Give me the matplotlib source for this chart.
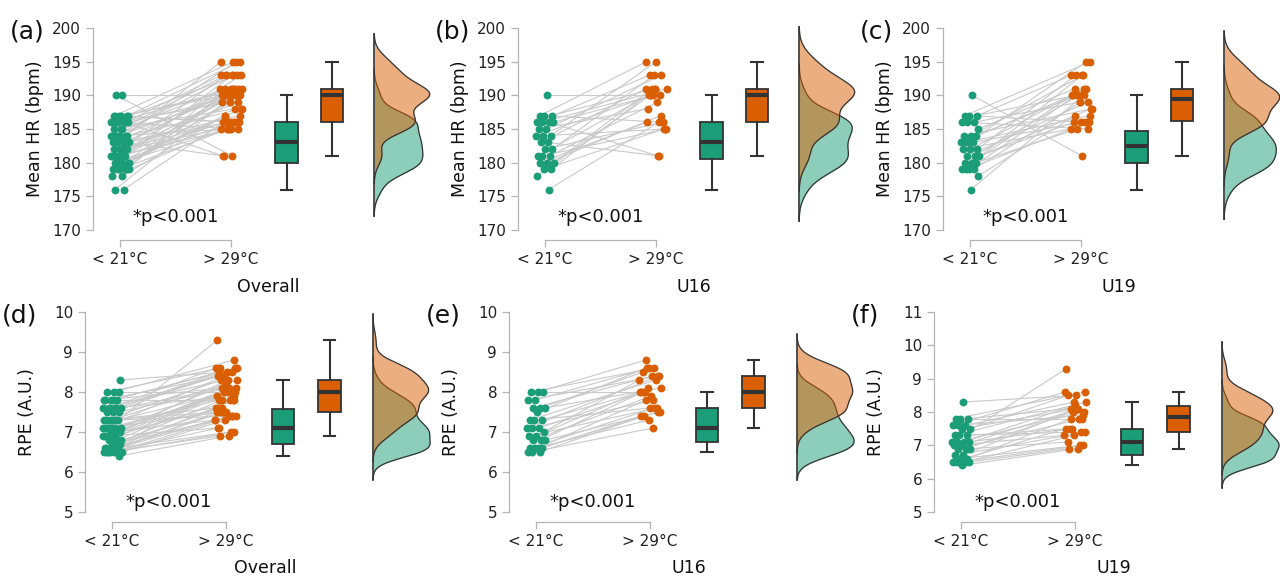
import numpy as np
import matplotlib.pyplot as plt

VERDE = '#1b9e77'
NARANJA = '#d95f02'
OSCURO = '#333333'
GRIS = '#b5b5b5'

# --- DATOS (pares frío / calor, mismo orden) ---
hr_u16_frio = [190, 187, 187, 187, 186, 186, 186, 186, 185, 185, 184, 184, 184, 183,
               183, 182, 182, 181, 181, 181, 180, 180, 180, 179, 179, 178, 176]
hr_u16_calor = [190, 195, 191, 186, 193, 181, 191, 190, 193, 188, 195, 185, 190, 181,
                191, 193, 186, 190, 189, 185, 191, 187, 186, 191, 185, 190, 186]

hr_u19_frio = [190, 187, 187, 187, 186, 186, 186, 185, 184, 184, 184, 183, 183, 183, 183,
               182, 182, 182, 181, 181, 181, 180, 180, 180, 179, 179, 179, 179, 178, 176]
hr_u19_calor = [181, 195, 190, 186, 193, 189, 185, 191, 193, 188, 190, 195, 190, 186, 187,
                193, 191, 185, 190, 189, 186, 193, 188, 185, 191, 190, 189, 186, 187, 190]

rpe_u16_frio = [8.0, 8.0, 8.0, 7.8, 7.8, 7.6, 7.6, 7.6, 7.5, 7.3, 7.3, 7.3, 7.1, 7.1,
                7.1, 7.0, 6.9, 6.9, 6.8, 6.8, 6.8, 6.6, 6.6, 6.6, 6.6, 6.5, 6.5, 6.5]
rpe_u16_calor = [8.8, 8.6, 8.0, 8.6, 8.4, 8.5, 8.4, 8.1, 8.6, 8.3, 8.0, 7.6, 8.4, 8.0,
                 7.8, 8.3, 8.1, 7.6, 8.0, 7.9, 7.5, 7.8, 7.6, 7.4, 7.3, 7.5, 7.4, 7.1]

rpe_u19_frio = [8.3, 7.8, 7.8, 7.8, 7.6, 7.6, 7.6, 7.5, 7.5, 7.3, 7.3, 7.3, 7.1, 7.1, 7.1,
                7.1, 7.0, 7.0, 6.9, 6.9, 6.9, 6.7, 6.7, 6.6, 6.6, 6.5, 6.5, 6.5, 6.5, 6.4]
rpe_u19_calor = [8.5, 8.6, 8.1, 7.8, 8.6, 8.3, 7.9, 8.5, 8.1, 8.3, 7.5, 7.4, 9.3, 8.2, 8.0,
                 7.5, 8.1, 7.3, 8.0, 7.8, 7.1, 8.1, 7.4, 7.8, 7.0, 7.5, 7.3, 7.0, 6.9, 6.9]

condiciones = ['< 21°C', '> 29°C']
grupos = ['Overall', 'U16', 'U19']
letras = ['(a)', '(b)', '(c)', '(d)', '(e)', '(f)']
hr_ticks = [170, 175, 180, 185, 190, 195, 200]
rpe_ticks = [5, 6, 7, 8, 9, 10]
rpe_ticks_u19 = [5, 6, 7, 8, 9, 10, 11]


def kde(valores):
    v = np.asarray(valores, dtype=float)
    n = len(v)
    iqr = np.subtract(*np.percentile(v, [75, 25]))
    bw = 0.9 * min(v.std(ddof=1), iqr / 1.34) * n ** -0.2
    malla = np.linspace(v.min() - 3 * bw, v.max() + 3 * bw, 400)
    dens = np.exp(-0.5 * ((malla[:, None] - v[None, :]) / bw) ** 2).sum(axis=1)
    dens /= n * bw * np.sqrt(2 * np.pi)
    return malla, dens


def jitter(n, ancho):
    # desplazamiento horizontal determinista (secuencia áurea)
    return (((np.arange(n) + 1) * 0.618034) % 1 - 0.5) * ancho


W, H = 1280, 579
fig = plt.figure(figsize=(W / 100, H / 100), dpi=100)


def panel(spine_px, top_px, bot_px, unidad, frio, calor, ylim, yticks, ylabel,
          letra, grupo, p_frac):
    izq = 1 - 27 / unidad
    ancho_px = 350
    ax = fig.add_axes([spine_px / W, 1 - bot_px / H, ancho_px / W, (bot_px - top_px) / H])
    ax.set_xlim(izq, izq + ancho_px / unidad)
    ax.set_ylim(*ylim)

    frio = np.asarray(frio, dtype=float)
    calor = np.asarray(calor, dtype=float)
    x1 = 1 + jitter(len(frio), 0.17)
    x2 = 2 + jitter(len(calor), 0.2)[::-1]

    for a, b, ya, yb in zip(x1, x2, frio, calor):
        ax.plot([a, b], [ya, yb], color='#c9c9c9', lw=0.8, zorder=1)
    ax.scatter(x1, frio, s=32, color=VERDE, zorder=3, clip_on=False, linewidths=0)
    ax.scatter(x2, calor, s=32, color=NARANJA, zorder=3, clip_on=False, linewidths=0)

    # cajas
    bp = ax.boxplot([frio, calor], positions=[2.5, 2.91], widths=0.2, whis=1.4,
                    showfliers=False, patch_artist=True, manage_ticks=False)
    for caja, color in zip(bp['boxes'], [VERDE, NARANJA]):
        caja.set_facecolor(color)
        caja.set_edgecolor(OSCURO)
        caja.set_linewidth(1.3)
    for k in ['whiskers', 'caps']:
        for l in bp[k]:
            l.set_color(OSCURO)
            l.set_linewidth(1.5)
    for l in bp['medians']:
        l.set_color(OSCURO)
        l.set_linewidth(3)

    # densidades (medio violín)
    base = 3.29
    mf, df = kde(frio)
    mc, dc = kde(calor)
    esc = 0.5 / max(df.max(), dc.max())
    ax.fill_betweenx(mf, base, base + df * esc, color=VERDE, alpha=0.5, lw=0, zorder=2,
                     clip_on=False)
    ax.plot(base + df * esc, mf, color=OSCURO, lw=0.9, zorder=2, clip_on=False)
    ax.fill_betweenx(mc, base, base + dc * esc, color=NARANJA, alpha=0.5, lw=0, zorder=2,
                     clip_on=False)
    ax.plot(base + dc * esc, mc, color=OSCURO, lw=0.9, zorder=2, clip_on=False)
    ax.plot([base, base], [min(mf.min(), mc.min()), max(mf.max(), mc.max())],
            color=OSCURO, lw=1.2, zorder=2, clip_on=False)

    # ejes
    for s in ['top', 'right']:
        ax.spines[s].set_visible(False)
    ax.spines['left'].set_color(GRIS)
    ax.spines['bottom'].set_color(GRIS)
    ax.spines['left'].set_linewidth(0.9)
    ax.spines['bottom'].set_linewidth(0.9)
    ax.spines['bottom'].set_position(('outward', 7))
    ax.spines['bottom'].set_bounds(1, 2)
    ax.set_yticks(yticks)
    ax.set_xticks([1, 2])
    ax.set_xticklabels(condiciones)
    ax.tick_params(axis='both', colors=GRIS, labelcolor='#222222', labelsize=11,
                   length=5, width=0.9)
    ax.tick_params(axis='x', pad=4)

    ax.text(1.5, p_frac, '*p<0.001', transform=ax.get_xaxis_transform(),
            ha='center', va='center', fontsize=13, color='#111111')
    ax.text(2.34, -0.28, grupo, transform=ax.get_xaxis_transform(),
            ha='center', va='center', fontsize=12.5, color='#111111')

    fig.text((spine_px - 58) / W, 1 - (top_px + bot_px) / 2 / H, ylabel, rotation=90,
             ha='center', va='center', fontsize=12.5, color='#111111')
    fig.text((spine_px - 83) / W, 1 - (top_px + 3) / H, letra, ha='left', va='center',
             fontsize=18, color='#111111')
    return ax


hr_frio = [hr_u16_frio + hr_u19_frio, hr_u16_frio, hr_u19_frio]
hr_calor = [hr_u16_calor + hr_u19_calor, hr_u16_calor, hr_u19_calor]
rpe_frio = [rpe_u16_frio + rpe_u19_frio, rpe_u16_frio, rpe_u19_frio]
rpe_calor = [rpe_u16_calor + rpe_u19_calor, rpe_u16_calor, rpe_u19_calor]

spines_fila1 = [93, 518, 943]
spines_fila2 = [85, 509, 934]

for i in range(3):
    panel(spines_fila1[i], 28, 230, 111, hr_frio[i], hr_calor[i], (170, 200), hr_ticks,
          'Mean HR (bpm)', letras[i], grupos[i], 0.065)
for i in range(3):
    if i == 2:
        ylim, ticks = (5, 11), rpe_ticks_u19
    else:
        ylim, ticks = (5, 10), rpe_ticks
    panel(spines_fila2[i], 312, 512, 114, rpe_frio[i], rpe_calor[i], ylim, ticks,
          'RPE (A.U.)', letras[3 + i], grupos[i], 0.05)

fig.savefig('out.png', dpi=100)
